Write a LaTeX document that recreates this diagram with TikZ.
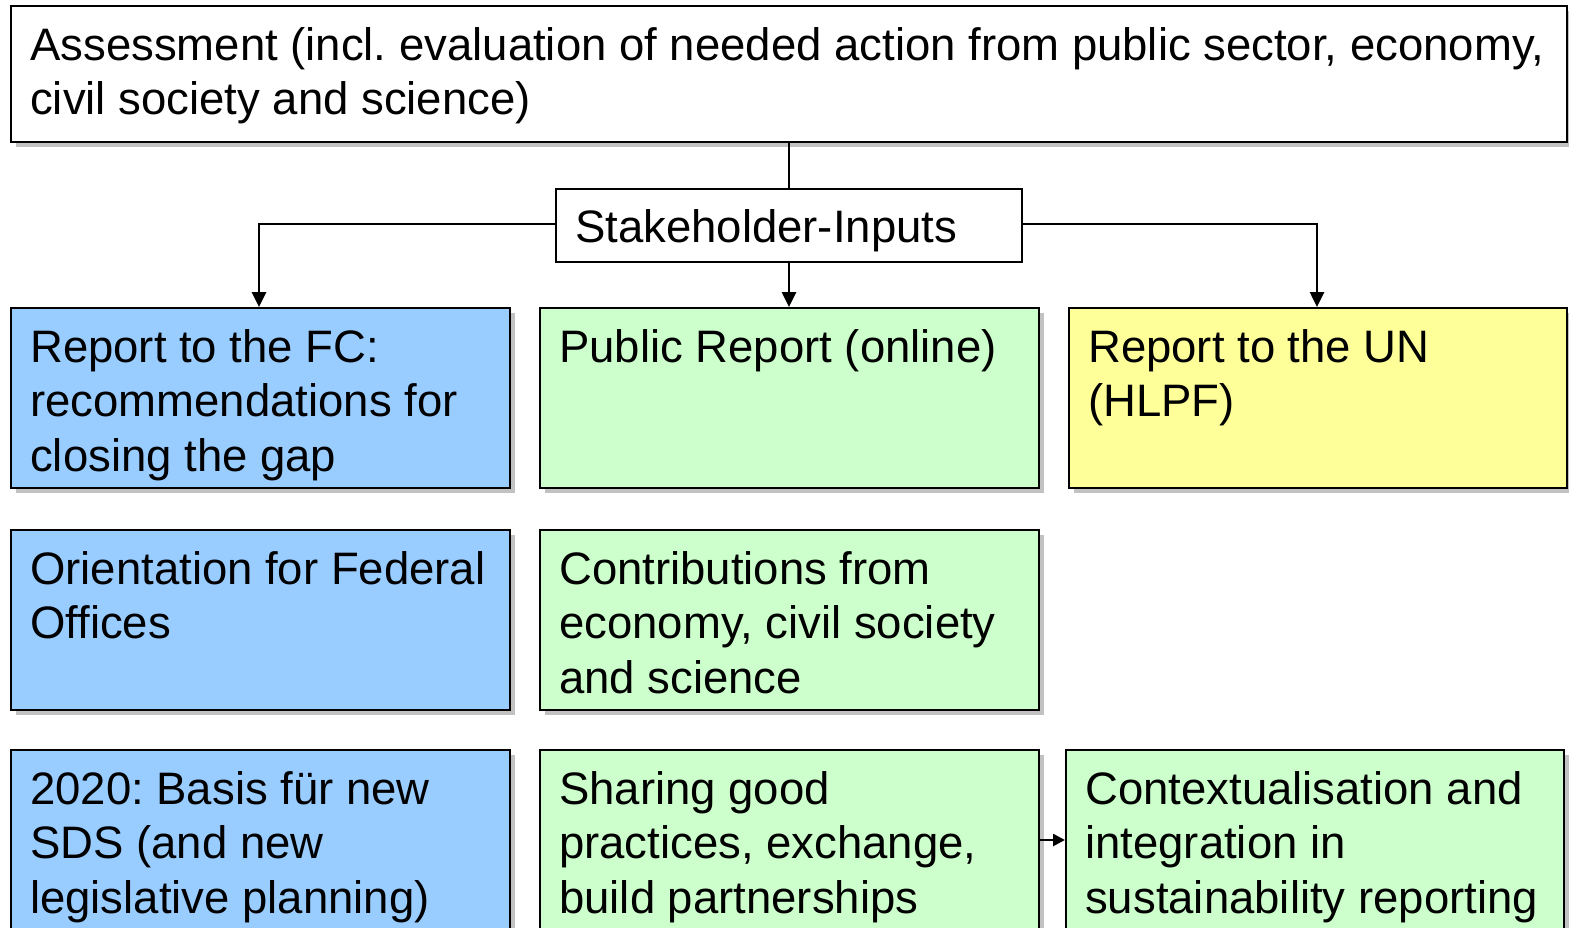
\documentclass[tikz,border=0pt]{standalone}
\usepackage{fontspec}
\setmainfont{Liberation Sans}
\usetikzlibrary{arrows.meta,shadows,positioning}
\definecolor{bluebox}{HTML}{99CCFF}
\definecolor{greenbox}{HTML}{CCFFCC}
\definecolor{yellowbox}{HTML}{FFFF99}
\tikzset{
  frame/.style={draw=black, line width=2.2pt, inner sep=0pt, anchor=north west,
    drop shadow={shadow xshift=5pt, shadow yshift=-5pt, opacity=0.4, fill=black!60}},
  plainframe/.style={draw=black, line width=2.2pt, inner sep=0pt, anchor=north west, fill=white},
  txt/.style={anchor=north west, inner sep=0pt, align=left, font=\fontsize{45.5}{54.5}\selectfont},
  conn/.style={line width=2.6pt, -{Triangle[length=15pt,width=14pt]}},
  smallconn/.style={line width=2.6pt, -{Triangle[length=12pt,width=12pt]}},
}
\newcommand{\fs}{\strut}
\begin{document}
\frenchspacing
\begin{tikzpicture}[x=1pt,y=-1pt]
\useasboundingbox (0,0) rectangle (1569,927);
\clip (0,0) rectangle (1569,927);
% boxes
\node[frame, fill=white, minimum width=1556pt, minimum height=136pt] (top) at (10,5) {};
\node[plainframe, minimum width=466pt, minimum height=73pt] (stake) at (555,188) {};
\node[frame, fill=bluebox, minimum width=499pt, minimum height=180pt] (fc) at (10,307) {};
\node[frame, fill=greenbox, minimum width=499pt, minimum height=180pt] (pub) at (539,307) {};
\node[frame, fill=yellowbox, minimum width=498pt, minimum height=180pt] (un) at (1068,307) {};
\node[frame, fill=bluebox, minimum width=499pt, minimum height=180pt] (ori) at (10,529) {};
\node[frame, fill=greenbox, minimum width=499pt, minimum height=180pt] (contr) at (539,529) {};
\node[frame, fill=bluebox, minimum width=499pt, minimum height=185pt] (sds) at (10,749) {};
\node[frame, fill=greenbox, minimum width=499pt, minimum height=185pt] (share) at (539,749) {};
\node[frame, fill=greenbox, minimum width=498pt, minimum height=185pt] (ctx) at (1065,749) {};
% texts
\node[txt] (topt) at ([shift={(20pt,-17pt)}]top.north west) {\fs Assessment (incl. evaluation of needed action from public sector, economy,\\civil society and science)};
\node[txt] (staket) at ([shift={(20pt,-16pt)}]stake.north west) {\fs Stakeholder-Inputs};
\node[txt] (fct) at ([shift={(20pt,-17pt)}]fc.north west) {\fs Report to the FC:\\recommendations for\\closing the gap};
\node[txt] (pubt) at ([shift={(20pt,-17pt)}]pub.north west) {\fs Public Report (online)};
\node[txt] (unt) at ([shift={(20pt,-17pt)}]un.north west) {\fs Report to the UN\\(HLPF)};
\node[txt] (orit) at ([shift={(20pt,-17pt)}]ori.north west) {\fs Orientation for Federal\\Offices};
\node[txt] (contrt) at ([shift={(20pt,-17pt)}]contr.north west) {\fs Contributions from\\economy, civil society\\and science};
\node[txt] (sdst) at ([shift={(20pt,-17pt)}]sds.north west) {\fs 2020: Basis für new\\SDS (and new\\legislative planning)};
\node[txt] (sharet) at ([shift={(20pt,-17pt)}]share.north west) {\fs Sharing good\\practices, exchange,\\build partnerships};
\node[txt] (ctxt) at ([shift={(20pt,-17pt)}]ctx.north west) {\fs Contextualisation and\\integration in\\sustainability reporting};
% connectors
\draw[line width=2.6pt] (top.south -| 789,0) -- (stake.north -| 789,0);
\draw[conn] (stake.south -| 789,0) -- (pub.north -| 789,0);
\draw[conn] (stake.west |- 0,224) -| (fc.north -| 259,0);
\draw[conn] (stake.east |- 0,224) -| (un.north -| 1317,0);
\draw[smallconn] (share.east |- 0,840) -- (ctx.west |- 0,840);
\end{tikzpicture}
\end{document}
